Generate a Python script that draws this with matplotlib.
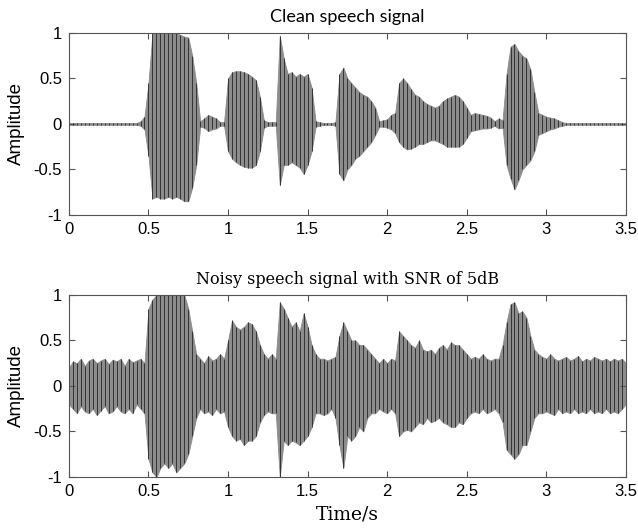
import numpy as np
import matplotlib
matplotlib.use('Agg')
import matplotlib.pyplot as plt

# envelope of the waveforms, one value every 25 ms (0 .. 3.5 s)
t = np.linspace(0, 3.5, 141)

clean_up = [0.01]*18 + [
    0.03, 0.08, 0.45, 1.0, 1.0, 1.0, 1.0, 1.0, 1.0, 1.0, 0.98, 0.96, 0.95, 0.75, 0.45,
    0.03, 0.06, 0.1, 0.08, 0.06, 0.02, 0.02,
    0.5, 0.57, 0.58, 0.58, 0.57, 0.55, 0.52, 0.48, 0.3,
    0.04, 0.02, 0.02, 0.02,
    0.97, 0.72, 0.55, 0.57, 0.52, 0.55, 0.52, 0.55, 0.4,
    0.03, 0.02, 0.01, 0.01, 0.01, 0.02,
    0.55, 0.62, 0.5, 0.45, 0.4, 0.35, 0.32, 0.3, 0.25, 0.18,
    0.03, 0.04, 0.05, 0.1, 0.12,
    0.45, 0.5, 0.45, 0.38, 0.32, 0.3, 0.25, 0.22, 0.2, 0.18, 0.2, 0.25, 0.28, 0.3, 0.32,
    0.3, 0.25, 0.18,
    0.1, 0.12, 0.11, 0.1, 0.09, 0.07, 0.03, 0.06, 0.04,
    0.55, 0.85, 0.88, 0.8, 0.75, 0.72, 0.6, 0.35,
    0.12, 0.1, 0.08, 0.07, 0.06, 0.04, 0.02] + [0.01]*16

clean_lo = [-0.01]*18 + [
    -0.02, -0.06, -0.35, -0.82, -0.8, -0.82, -0.82, -0.8, -0.82, -0.8, -0.82, -0.85, -0.85, -0.7, -0.45,
    -0.03, -0.04, -0.08, -0.06, -0.05, -0.02, -0.02,
    -0.3, -0.38, -0.42, -0.45, -0.47, -0.48, -0.48, -0.45, -0.3,
    -0.04, -0.02, -0.02, -0.02,
    -0.67, -0.45, -0.45, -0.42, -0.45, -0.48, -0.55, -0.45, -0.3,
    -0.03, -0.02, -0.01, -0.01, -0.01, -0.02,
    -0.55, -0.62, -0.5, -0.45, -0.38, -0.35, -0.3, -0.25, -0.2, -0.12,
    -0.03, -0.03, -0.04, -0.06, -0.1,
    -0.2, -0.25, -0.28, -0.27, -0.25, -0.22, -0.22, -0.2, -0.18, -0.18, -0.2, -0.22, -0.25, -0.25, -0.25,
    -0.25, -0.22, -0.15,
    -0.08, -0.07, -0.06, -0.05, -0.05, -0.04, -0.02, -0.05, -0.04,
    -0.45, -0.6, -0.72, -0.62, -0.5, -0.45, -0.4, -0.3,
    -0.12, -0.1, -0.08, -0.06, -0.05, -0.03, -0.02] + [-0.01]*16

noisy_up = [
    0.2, 0.27, 0.25, 0.3, 0.22, 0.28, 0.3, 0.25, 0.28, 0.3, 0.24, 0.29, 0.27, 0.3, 0.22, 0.3, 0.26, 0.28, 0.3, 0.25,
    0.85, 0.95, 1.0, 1.0, 1.0, 1.0, 1.0, 1.0, 1.0, 1.0, 0.85, 0.6, 0.35,
    0.3, 0.25, 0.33, 0.28, 0.3, 0.35, 0.3,
    0.5, 0.72, 0.65, 0.62, 0.65, 0.7, 0.68, 0.6, 0.45,
    0.35, 0.3, 0.35, 0.3,
    0.92, 0.85, 0.75, 0.65, 0.7, 0.6, 0.8, 0.65, 0.45,
    0.35, 0.3, 0.3, 0.28, 0.3, 0.32,
    0.55, 0.7, 0.6, 0.5, 0.5, 0.45, 0.45, 0.4, 0.35, 0.3,
    0.25, 0.3, 0.25, 0.3, 0.28,
    0.6, 0.55, 0.5, 0.45, 0.42, 0.5, 0.4, 0.38, 0.4, 0.35, 0.42, 0.45, 0.4, 0.48, 0.45, 0.45, 0.4, 0.35,
    0.3, 0.32, 0.3, 0.35, 0.3, 0.28, 0.3, 0.3, 0.45,
    0.7, 0.9, 0.92, 0.8, 0.82, 0.75, 0.55, 0.4,
    0.35, 0.32, 0.3, 0.35, 0.3, 0.28, 0.3, 0.32, 0.28, 0.3, 0.33, 0.27, 0.3, 0.28, 0.32,
    0.3, 0.28, 0.3, 0.27, 0.3, 0.28, 0.3, 0.25]

noisy_lo = [
    -0.2, -0.25, -0.3, -0.22, -0.28, -0.3, -0.25, -0.32, -0.27, -0.22, -0.3, -0.28, -0.22, -0.28, -0.3, -0.25, -0.3, -0.2, -0.25, -0.3,
    -0.8, -0.95, -1.0, -0.9, -0.85, -0.9, -0.85, -0.95, -0.9, -0.85, -0.75, -0.55, -0.35,
    -0.25, -0.3, -0.28, -0.32, -0.25, -0.3, -0.28,
    -0.45, -0.55, -0.6, -0.58, -0.65, -0.6, -0.6, -0.55, -0.4,
    -0.32, -0.28, -0.3, -0.3,
    -1.0, -0.6, -0.65, -0.6, -0.62, -0.65, -0.6, -0.55, -0.45,
    -0.3, -0.3, -0.32, -0.3, -0.25, -0.35,
    -0.65, -0.9, -0.55, -0.6, -0.55, -0.45, -0.5, -0.35, -0.3, -0.3,
    -0.25, -0.28, -0.3, -0.25, -0.3,
    -0.55, -0.5, -0.48, -0.5, -0.45, -0.4, -0.42, -0.35, -0.4, -0.38, -0.35, -0.4, -0.42, -0.45, -0.45, -0.4, -0.42, -0.35,
    -0.3, -0.28, -0.3, -0.25, -0.3, -0.28, -0.25, -0.3, -0.4,
    -0.7, -0.75, -0.8, -0.75, -0.65, -0.65, -0.5, -0.35,
    -0.3, -0.3, -0.28, -0.3, -0.32, -0.25, -0.3, -0.28, -0.3, -0.25, -0.3, -0.28, -0.3, -0.25, -0.3,
    -0.28, -0.3, -0.25, -0.3, -0.28, -0.3, -0.25, -0.2]

xticks = [0, 0.5, 1, 1.5, 2, 2.5, 3, 3.5]
xticklabels = ['0', '0.5', '1', '1.5', '2', '2.5', '3', '3.5']
yticks = [-1, -0.5, 0, 0.5, 1]
yticklabels = ['-1', '-0.5', '0', '0.5', '1']

plt.rcParams['font.family'] = ['Liberation Sans', 'DejaVu Sans']

fig = plt.figure(figsize=(6.38, 5.28), dpi=100)
ax1 = fig.add_axes([0.108, 0.593, 0.873, 0.3445])
ax2 = fig.add_axes([0.108, 0.0966, 0.873, 0.3447])


def draw_wave(ax, up, lo):
    ax.fill_between(t, lo, up, color='#8c8c8c', lw=0.6, edgecolor='#8c8c8c')
    ax.vlines(t, lo, up, color='#262626', lw=0.6)
    ax.set_xlim(0, 3.5)
    ax.set_ylim(-1, 1)
    ax.set_xticks(xticks)
    ax.set_xticklabels(xticklabels)
    ax.set_yticks(yticks)
    ax.set_yticklabels(yticklabels)
    ax.tick_params(direction='in', top=True, right=True, labelsize=12, length=4,
                   color='#555555', pad=5)
    for s in ax.spines.values():
        s.set_color('#555555')
        s.set_linewidth(0.8)
    ax.set_ylabel('Amplitude', fontsize=13.5, labelpad=6)


draw_wave(ax1, clean_up, clean_lo)
draw_wave(ax2, noisy_up, noisy_lo)

ax1.set_title('Clean speech signal', fontsize=13, fontfamily='Lato', pad=8)
ax2.set_title('Noisy speech signal with SNR of 5dB', fontsize=11.5, fontfamily='DejaVu Serif', pad=8)
ax2.set_xlabel('Time/s', fontsize=13.5, fontfamily='DejaVu Serif', labelpad=5)

fig.savefig('out.png', dpi=100)
